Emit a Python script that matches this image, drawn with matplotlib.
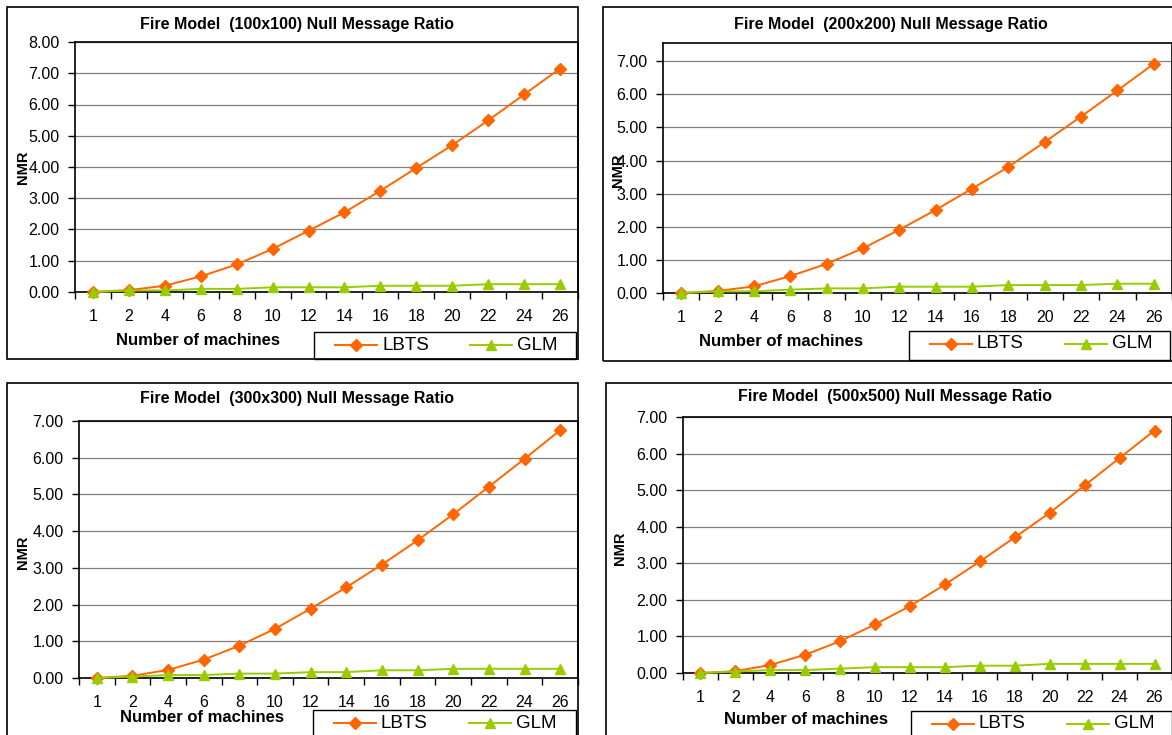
import matplotlib
matplotlib.use('Agg')
import matplotlib.pyplot as plt
from matplotlib.patches import Rectangle
from matplotlib.lines import Line2D
import numpy as np

plt.rcParams['font.family'] = ['Liberation Sans', 'DejaVu Sans']

machines = ['1', '2', '4', '6', '8', '10', '12', '14', '16', '18', '20', '22', '24', '26']

titles = ['Fire Model  (100x100) Null Message Ratio',
          'Fire Model  (200x200) Null Message Ratio',
          'Fire Model  (300x300) Null Message Ratio',
          'Fire Model  (500x500) Null Message Ratio']

lbts_100 = [0.0, 0.06, 0.20, 0.50, 0.88, 1.38, 1.96, 2.55, 3.24, 3.97, 4.70, 5.49, 6.32, 7.15]
glm_100 = [0.0, 0.05, 0.05, 0.10, 0.10, 0.15, 0.15, 0.15, 0.20, 0.20, 0.20, 0.25, 0.25, 0.25]

lbts_200 = [0.0, 0.06, 0.20, 0.51, 0.88, 1.35, 1.91, 2.51, 3.15, 3.81, 4.56, 5.33, 6.12, 6.92]
glm_200 = [0.0, 0.05, 0.05, 0.10, 0.14, 0.14, 0.19, 0.19, 0.19, 0.24, 0.24, 0.24, 0.28, 0.28]

lbts_300 = [0.0, 0.06, 0.22, 0.50, 0.88, 1.34, 1.89, 2.47, 3.09, 3.75, 4.46, 5.21, 5.97, 6.75]
glm_300 = [0.0, 0.04, 0.08, 0.08, 0.12, 0.12, 0.16, 0.16, 0.21, 0.21, 0.25, 0.25, 0.25, 0.25]

lbts_500 = [0.0, 0.05, 0.22, 0.50, 0.87, 1.33, 1.83, 2.42, 3.05, 3.71, 4.38, 5.13, 5.88, 6.63]
glm_500 = [0.0, 0.04, 0.08, 0.08, 0.12, 0.16, 0.16, 0.16, 0.20, 0.20, 0.25, 0.25, 0.25, 0.25]

lbts_all = [lbts_100, lbts_200, lbts_300, lbts_500]
glm_all = [glm_100, glm_200, glm_300, glm_500]
ymax_all = [8.0, 7.55, 7.0, 7.0]

ORANGE = '#FF6600'
GREEN = '#99CC00'

W, H = 1172, 735

# pixel layout of each panel: border, plot area, title, xlabel, ylabel, legend box
panels = [
    dict(border=(7, 7, 578, 359), plot=(75, 42, 578, 292), title=(297, 24),
         xlab=(198, 340), ylab=(23, 167), leg=(314, 332, 576, 359)),
    dict(border=(603, 7, 1185, 361), plot=(663, 43, 1172, 293), title=(891, 24),
         xlab=(781, 342), ylab=(618, 170), leg=(909, 331, 1170, 360)),
    dict(border=(7, 383, 578, 745), plot=(79, 421, 578, 678), title=(297, 399),
         xlab=(202, 717), ylab=(23, 552), leg=(313, 710, 576, 745)),
    dict(border=(606, 383, 1185, 745), plot=(683, 417, 1172, 673), title=(895, 397),
         xlab=(806, 719), ylab=(620, 548), leg=(911, 711, 1172, 745)),
]


def fx(x):
    return x / float(W)


def fy(y):
    return 1 - y / float(H)


def draw_legend(fig, l, t, r, b):
    fig.add_artist(Rectangle((fx(l), fy(b)), fx(r) - fx(l), fy(t) - fy(b),
                             transform=fig.transFigure, fill=False,
                             edgecolor='black', lw=1.0))
    ty = fy(t + 13)
    for off, label, color, mk in [(21, 'LBTS', ORANGE, 'D'), (156, 'GLM', GREEN, '^')]:
        x0, x1 = l + off, l + off + 42
        fig.add_artist(Line2D([fx(x0), fx(x1)], [ty, ty], transform=fig.transFigure,
                              color=color, lw=1.4))
        fig.add_artist(Line2D([fx((x0 + x1) / 2.0)], [ty], transform=fig.transFigure,
                              color=color, marker=mk, markersize=7 if mk == '^' else 6,
                              lw=0))
        fig.text(fx(x1 + 5), ty, label, fontsize=13.5, va='center', ha='left')


fig = plt.figure(figsize=(W / 100.0, H / 100.0), dpi=100)

x = np.arange(len(machines))
for i, p in enumerate(panels):
    bl, bt, br, bb = p['border']
    fig.add_artist(Rectangle((fx(bl), fy(bb)), fx(br) - fx(bl), fy(bt) - fy(bb),
                             transform=fig.transFigure, fill=False,
                             edgecolor='black', lw=1.2))
    pl, pt, pr, pb = p['plot']
    ax = fig.add_axes([fx(pl), fy(pb), fx(pr) - fx(pl), fy(pt) - fy(pb)])
    ax.plot(x, lbts_all[i], color=ORANGE, lw=1.4, marker='D', markersize=6,
            clip_on=False, zorder=3)
    ax.plot(x, glm_all[i], color=GREEN, lw=1.4, marker='^', markersize=7,
            clip_on=False, zorder=4)
    ax.set_xlim(-0.5, len(machines) - 0.5)
    ax.set_ylim(0, ymax_all[i])
    ax.set_yticks(np.arange(0, int(ymax_all[i]) + 1))
    ax.set_yticklabels(['%.2f' % v for v in np.arange(0, int(ymax_all[i]) + 1)])
    ax.yaxis.grid(True, color='#808080', lw=0.9)
    ax.set_axisbelow(True)
    ax.set_xticks(np.arange(-0.5, len(machines)))
    ax.set_xticklabels([])
    ax.set_xticks(x, minor=True)
    ax.set_xticklabels(machines, minor=True)
    ax.tick_params(axis='x', which='major', direction='out', length=5, width=1)
    ax.tick_params(axis='x', which='minor', length=0, pad=12, labelsize=11.5)
    ax.tick_params(axis='y', direction='out', length=5, width=1, pad=6, labelsize=11.5)
    for s in ax.spines.values():
        s.set_color('black')
        s.set_linewidth(1.2)

    fig.text(fx(p['title'][0]), fy(p['title'][1]), titles[i], fontsize=11.5,
             fontweight='bold', ha='center', va='center')
    fig.text(fx(p['xlab'][0]), fy(p['xlab'][1]), 'Number of machines', fontsize=12,
             fontweight='bold', ha='center', va='center')
    fig.text(fx(p['ylab'][0]), fy(p['ylab'][1]), 'NMR', fontsize=10.5,
             fontweight='bold', ha='center', va='center', rotation=90)
    draw_legend(fig, *p['leg'])

fig.savefig('out.png', dpi=100)
